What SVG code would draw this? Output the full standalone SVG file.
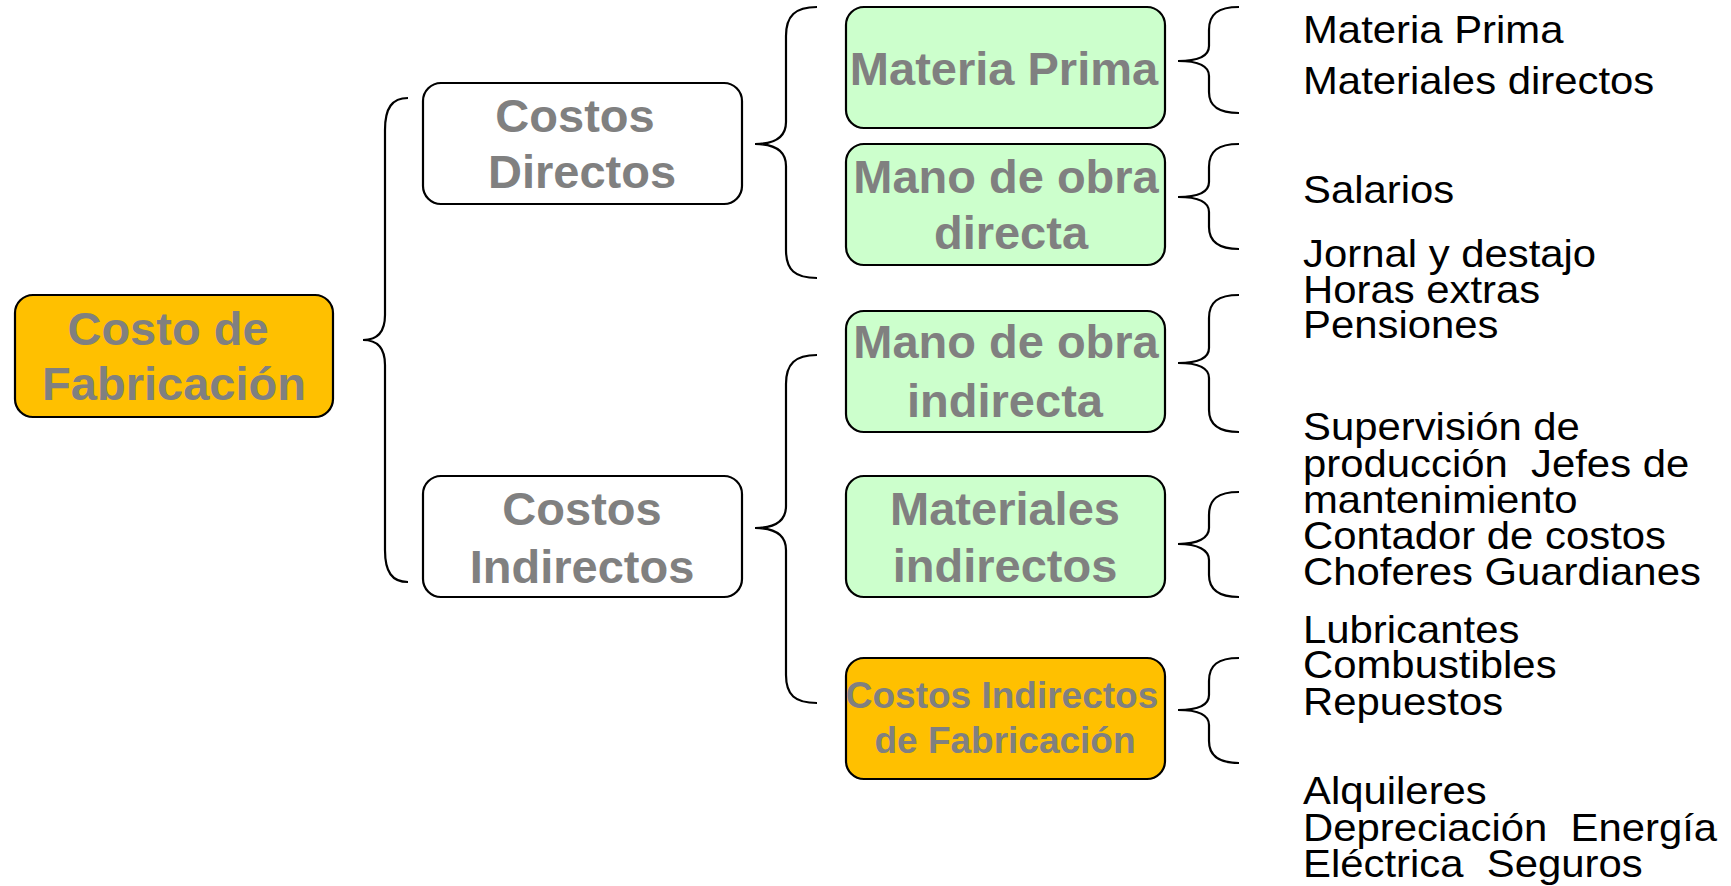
<svg xmlns="http://www.w3.org/2000/svg" width="1731" height="886" viewBox="0 0 1731 886">
<style>
.box{stroke:#000;stroke-width:2.2}
.w{fill:#fff}.g{fill:#CCFFCC}.o{fill:#FFC000}
.t{font-family:"Liberation Sans",Arial,sans-serif;font-weight:bold;fill:#808080;text-anchor:middle;font-size:47px}
.s{font-size:37px}
.r{font-family:"Liberation Sans",Arial,sans-serif;fill:#000;font-size:39.5px;white-space:pre}
.br{fill:none;stroke:#000;stroke-width:2.2}
</style>
<rect width="1731" height="886" fill="#fff"/>
<g id="connectors">
<path class="br" d="M408,98 C392,98 385,108 385,130 L385,315 C385,332 378,340 363,340 C378,340 385,348 385,365 L385,550 C385,572 392,582 408,582"/>
<path class="br" d="M817,7 C795,7 786,16 786,36 L786,122 C786,137 775,144 755,144 C775,144 786,151 786,166 L786,250 C786,270 795,278 817,278"/>
<path class="br" d="M817,355 C795,355 786,364 786,384 L786,506 C786,521 775,528 755,528 C775,528 786,535 786,550 L786,675 C786,695 795,703 817,703"/>
<path class="br" d="M1239,7 C1218,7 1209,14 1209,30 L1209,46 C1209,56 1198,61 1178,61 C1198,61 1209,66 1209,76 L1209,92 C1209,106 1218,113 1239,113"/>
<path class="br" d="M1239,144 C1218,144 1209,151 1209,167 L1209,182 C1209,192 1198,197 1178,197 C1198,197 1209,202 1209,212 L1209,227 C1209,241 1218,249 1239,249"/>
<path class="br" d="M1239,295 C1218,295 1209,302 1209,318 L1209,348 C1209,358 1198,363 1178,363 C1198,363 1209,368 1209,378 L1209,410 C1209,424 1218,432 1239,432"/>
<path class="br" d="M1239,492 C1218,492 1209,499 1209,515 L1209,528 C1209,538 1198,544 1178,544 C1198,544 1209,550 1209,560 L1209,575 C1209,589 1218,597 1239,597"/>
<path class="br" d="M1239,658 C1218,658 1209,665 1209,681 L1209,695 C1209,705 1198,710 1178,710 C1198,710 1209,715 1209,725 L1209,741 C1209,755 1218,763 1239,763"/>
</g>
<g id="costo-fabricacion">
<rect class="box o" x="15" y="295" width="318" height="122" rx="18"/>
<text class="t" x="168" y="345">Costo de</text>
<text class="t" x="174" y="400">Fabricación</text>
</g>
<g id="costos-directos">
<rect class="box w" x="423" y="83" width="319" height="121" rx="18"/>
<text class="t" x="575" y="132">Costos</text>
<text class="t" x="582" y="188">Directos</text>
</g>
<g id="costos-indirectos">
<rect class="box w" x="423" y="476" width="319" height="121" rx="18"/>
<text class="t" x="582" y="525">Costos</text>
<text class="t" x="582" y="583">Indirectos</text>
</g>
<g id="materia-prima">
<rect class="box g" x="846" y="7" width="319" height="121" rx="18"/>
<text class="t" x="1004" y="85">Materia Prima</text>
</g>
<g id="mano-obra-directa">
<rect class="box g" x="846" y="144" width="319" height="121" rx="18"/>
<text class="t" x="1006" y="193">Mano de obra</text>
<text class="t" x="1011" y="249">directa</text>
</g>
<g id="mano-obra-indirecta">
<rect class="box g" x="846" y="311" width="319" height="121" rx="18"/>
<text class="t" x="1006" y="358">Mano de obra</text>
<text class="t" x="1005" y="417">indirecta</text>
</g>
<g id="materiales-indirectos">
<rect class="box g" x="846" y="476" width="319" height="121" rx="18"/>
<text class="t" x="1005" y="525">Materiales</text>
<text class="t" x="1005" y="582">indirectos</text>
</g>
<g id="cif">
<rect class="box o" x="846" y="658" width="319" height="121" rx="18"/>
<text class="t s" x="1002" y="708">Costos Indirectos</text>
<text class="t s" x="1005" y="753">de Fabricación</text>
</g>
<g id="items" transform="translate(1303,0) scale(1.06,1)">
<text class="r" x="0" y="43">Materia Prima</text>
<text class="r" x="0" y="94">Materiales directos</text>
<text class="r" x="0" y="203">Salarios</text>
<text class="r" x="0" y="267">Jornal y destajo</text>
<text class="r" x="0" y="303">Horas extras</text>
<text class="r" x="0" y="338">Pensiones</text>
<text class="r" x="0" y="440">Supervisión de</text>
<text class="r" x="0" y="477">producción  Jefes de</text>
<text class="r" x="0" y="513">mantenimiento</text>
<text class="r" x="0" y="549">Contador de costos</text>
<text class="r" x="0" y="585">Choferes Guardianes</text>
<text class="r" x="0" y="643">Lubricantes</text>
<text class="r" x="0" y="678">Combustibles</text>
<text class="r" x="0" y="715">Repuestos</text>
<text class="r" x="0" y="804">Alquileres</text>
<text class="r" x="0" y="841">Depreciación  Energía</text>
<text class="r" x="0" y="877">Eléctrica  Seguros</text>
</g>
</svg>
